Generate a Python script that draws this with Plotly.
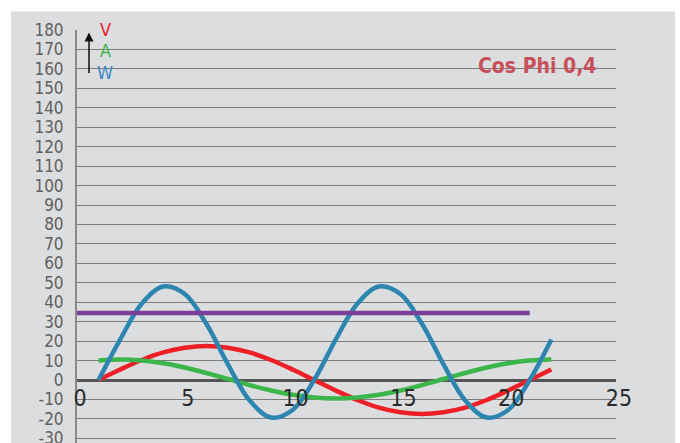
import plotly.graph_objects as go

# ---- data ----
x_vals = [1, 2, 3, 4, 5, 6, 7, 8, 9, 10, 11, 12, 13, 14, 15, 16, 17, 18, 19, 20, 21, 22]
volt = [0, 5.4, 10.3, 14.2, 16.6, 17.5, 16.6, 14.2, 10.3, 5.4, 0, -5.4, -10.3, -14.2,
        -16.6, -17.5, -16.6, -14.2, -10.3, -5.4, 0, 5.4]
amp = [10.0, 10.5, 10.0, 8.6, 6.4, 3.6, 0.5, -2.6, -5.4, -7.6, -9.0, -9.5, -9.0, -7.6,
       -5.4, -2.6, 0.5, 3.6, 6.4, 8.6, 10.0, 10.5]
watt = [0, 20.8, 39.2, 48.1, 44.2, 28.9, 8.0, -10.4, -19.3, -15.4, 0, 20.8, 39.2, 48.1,
        44.2, 28.9, 8.0, -10.4, -19.3, -15.4, 0, 20.8]
avg_x = [0, 21]
avg_w = [34.5, 34.5]

x_ticks = [0, 5, 10, 15, 20, 25]
y_ticks = list(range(-30, 190, 10))
title_text = "Cos Phi 0,4"
legend_letters = ["V", "A", "W"]
legend_colors = ["#ee2229", "#3db84b", "#3b86c4"]

RED = "#ee1f26"
GREEN = "#3cb64a"
BLUE = "#2c86b0"
PURPLE = "#7b3f98"

H = 443
TOP = 29.5
Y_MIN, Y_MAX = -32.4, 180
zero_frac = (0 - Y_MIN) / (Y_MAX - Y_MIN)
PH = H - TOP

fig = go.Figure()
fig.add_trace(go.Scatter(x=x_vals, y=volt, mode="lines",
                         line=dict(color=RED, width=4.5, shape="spline"), hoverinfo="skip"))
fig.add_trace(go.Scatter(x=x_vals, y=amp, mode="lines",
                         line=dict(color=GREEN, width=4.5, shape="spline"), hoverinfo="skip"))
fig.add_trace(go.Scatter(x=x_vals, y=watt, mode="lines",
                         line=dict(color=BLUE, width=4.5, shape="spline"), hoverinfo="skip"))
fig.add_trace(go.Scatter(x=avg_x, y=avg_w, mode="lines",
                         line=dict(color=PURPLE, width=4.5), hoverinfo="skip"))

# grey panel behind the chart
fig.add_shape(type="rect", xref="paper", yref="paper",
              x0=(11 - 77) / 539, x1=(675 - 77) / 539,
              y0=-0.02, y1=(H - 11) / PH,
              fillcolor="#dcdddf", line=dict(width=0), layer="below")

# V / A / W indicator with arrow
for i, (t, c) in enumerate(zip(legend_letters, legend_colors)):
    fig.add_annotation(xref="paper", yref="paper",
                       x=(105 - 77) / 539, y=(H - (29 + i * 21.5)) / PH,
                       text=t, showarrow=False, xanchor="center", yanchor="middle",
                       borderpad=0,
                       font=dict(family="DejaVu Sans Condensed, DejaVu Sans", size=18, color=c))
fig.add_annotation(xref="paper", yref="paper", axref="pixel", ayref="pixel",
                   x=(89 - 77) / 539, y=(H - 32) / PH, ax=0, ay=42,
                   text="", showarrow=True, arrowhead=2, arrowsize=1.2, arrowwidth=1.5,
                   arrowcolor="#111111")

fig.add_annotation(xref="paper", yref="paper",
                   x=(536.5 - 77) / 539, y=(H - 66) / PH,
                   text="<b>" + title_text + "</b>", showarrow=False,
                   xanchor="center", yanchor="middle",
                   font=dict(family="DejaVu Sans Condensed, DejaVu Sans", size=21, color="#c8505a"))

fig.update_layout(
    width=680, height=H,
    margin=dict(l=77, r=64, t=TOP, b=0, pad=0, autoexpand=False),
    paper_bgcolor="white",
    plot_bgcolor="rgba(0,0,0,0)",
    showlegend=False,
    xaxis=dict(range=[0, 25], tickvals=x_ticks, ticktext=[str(v) for v in x_ticks],
               showgrid=False, zeroline=False, showline=False, ticks="",
               anchor="free", position=zero_frac, ticklabelstandoff=2, ticklabelshift=3,
               automargin=False,
               tickfont=dict(family="DejaVu Sans Condensed, DejaVu Sans", size=23, color="#2a2a2a"),
               fixedrange=True),
    yaxis=dict(range=[Y_MIN, Y_MAX], tickvals=y_ticks, ticktext=[str(v) for v in y_ticks],
               showgrid=True, gridcolor="#7d7d7d", gridwidth=1.2,
               zeroline=True, zerolinecolor="#555555", zerolinewidth=2.5,
               showline=True, linecolor="#8a8a8a", linewidth=2, ticks="",
               ticklabelstandoff=8, automargin=False, ticklabeloverflow="allow",
               tickfont=dict(family="DejaVu Sans Condensed, DejaVu Sans", size=17, color="#606060"),
               fixedrange=True),
)

fig.write_html("out.html", config={"displayModeBar": False},
               post_script="document.body.style.margin='0';document.body.style.overflow='hidden';")
